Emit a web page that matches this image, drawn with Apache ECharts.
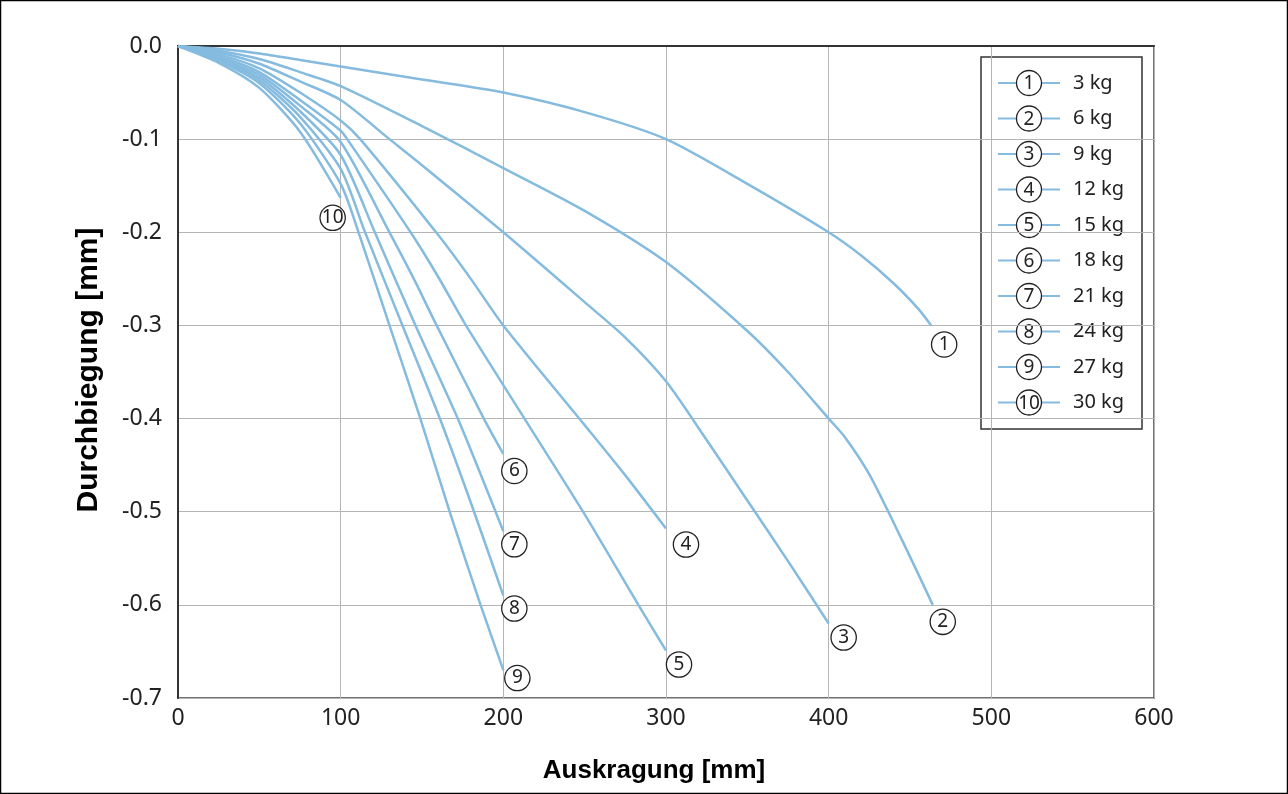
<!DOCTYPE html>
<html>
<head>
<meta charset="utf-8">
<script src="https://cdn.jsdelivr.net/npm/echarts@6/dist/echarts.min.js"></script>
<style>
html,body{margin:0;padding:0;background:#fff;}
#chart{width:1288px;height:794px;}
</style>
</head>
<body>
<div id="chart"></div>
<script>
// ---- data ----
const loadNames = ['3 kg','6 kg','9 kg','12 kg','15 kg','18 kg','21 kg','24 kg','27 kg','30 kg'];
const markerNames = ['1','2','3','4','5','6','7','8','9','10'];
const xAxisName = 'Auskragung [mm]';
const yAxisName = 'Durchbiegung [mm]';

const s3kg  = [[0,0],[25,-0.003],[50,-0.008],[75,-0.015],[100,-0.022],[150,-0.036],[200,-0.05],[250,-0.071],[300,-0.1],[350,-0.148],[400,-0.2],[420,-0.225],[440,-0.255],[455,-0.282],[463,-0.3]];
const s6kg  = [[0,0],[25,-0.005],[50,-0.014],[75,-0.028],[100,-0.043],[150,-0.086],[200,-0.131],[250,-0.177],[300,-0.232],[350,-0.306],[375,-0.35],[400,-0.4],[410,-0.42],[425,-0.46],[445,-0.53],[464,-0.6]];
const s9kg  = [[0,0],[25,-0.007],[50,-0.019],[75,-0.038],[100,-0.058],[130,-0.1],[150,-0.128],[200,-0.2],[250,-0.275],[275,-0.313],[300,-0.36],[325,-0.423],[350,-0.488],[375,-0.553],[400,-0.62]];
const s12kg = [[0,0],[25,-0.009],[50,-0.024],[75,-0.05],[100,-0.08],[112,-0.1],[160,-0.203],[180,-0.25],[200,-0.3],[250,-0.407],[275,-0.461],[300,-0.518]];
const s15kg = [[0,0],[25,-0.011],[50,-0.028],[75,-0.058],[100,-0.091],[104,-0.1],[143,-0.2],[160,-0.248],[177,-0.3],[213,-0.4],[249,-0.5],[283,-0.6],[300,-0.649]];
const s18kg = [[0,0],[25,-0.013],[50,-0.031],[75,-0.064],[100,-0.103],[130,-0.2],[145,-0.25],[159,-0.3],[188,-0.4],[200,-0.438]];
const s21kg = [[0,0],[25,-0.014],[50,-0.034],[75,-0.07],[100,-0.117],[121,-0.2],[146,-0.3],[172,-0.4],[200,-0.521]];
const s24kg = [[0,0],[25,-0.015],[50,-0.037],[75,-0.076],[100,-0.132],[115,-0.2],[138,-0.3],[161,-0.4],[182,-0.5],[200,-0.59]];
const s27kg = [[0,0],[25,-0.016],[50,-0.04],[75,-0.083],[100,-0.148],[111,-0.2],[130,-0.3],[149,-0.4],[167,-0.5],[186,-0.6],[200,-0.67]];
const s30kg = [[0,0],[25,-0.018],[50,-0.045],[75,-0.092],[100,-0.163]];
const seriesData = [s3kg,s6kg,s9kg,s12kg,s15kg,s18kg,s21kg,s24kg,s27kg,s30kg];

// ---- style / layout ----
const lineColor = '#85bbdf';
const labelOffsets = [[13,19],[10,17],[15,14],[20,16],[13,14],[11,17],[11,13],[11,13],[14,8],[-8,20]];

const chart = echarts.init(document.getElementById('chart'), null, {renderer:'canvas'});

const circleRich = {
  c: {
    width: 24, height: 24, lineHeight: 24, borderRadius: 13,
    borderColor: '#222', borderWidth: 1.3, backgroundColor: '#fff',
    align: 'center', verticalAlign: 'middle',
    fontSize: 19, color: '#222', fontFamily: 'Noto Sans'
  }
};

const series = seriesData.map((d, i) => ({
  name: loadNames[i],
  type: 'line',
  data: d,
  showSymbol: false,
  smooth: 0.25,
  lineStyle: {color: lineColor, width: 2.5},
  itemStyle: {color: lineColor},
  silent: true,
  endLabel: {
    show: true,
    distance: 0,
    align: 'center',
    verticalAlign: 'middle',
    offset: labelOffsets[i],
    formatter: () => '{c|' + markerNames[i] + '}',
    rich: circleRich
  }
}));

// legend drawn with graphic elements
const legendLeft = 981, legendTop = 57, legendW = 161, legendH = 372;
const rowStart = 83, rowStep = 35.5;
const legendChildren = [{
  type: 'rect',
  shape: {x: legendLeft, y: legendTop, width: legendW, height: legendH},
  style: {fill: '#fff', stroke: '#333', lineWidth: 1.5}
}];
loadNames.forEach((name, i) => {
  const y = rowStart + i * rowStep;
  legendChildren.push({type:'line', shape:{x1:998, y1:y, x2:1060, y2:y}, style:{stroke:lineColor, lineWidth:2}});
  legendChildren.push({type:'circle', shape:{cx:1029, cy:y, r:12.5}, style:{fill:'#fff', stroke:'#222', lineWidth:1.3}});
  legendChildren.push({type:'text', x:1029, y:y+1, style:{text:markerNames[i], fill:'#222', font:'19px "Noto Sans"', align:'center', verticalAlign:'middle'}});
  legendChildren.push({type:'text', x:1073, y:y, style:{text:name, fill:'#222', font:'20px "Noto Sans"', align:'left', verticalAlign:'middle'}});
});

const option = {
  animation: false,
  backgroundColor: '#fff',
  grid: {left: 178, right: 134, top: 46, bottom: 96, show: true, borderColor: '#444', borderWidth: 1.5, containLabel: false},
  xAxis: {
    type: 'value', min: 0, max: 600, interval: 100,
    name: xAxisName, nameLocation: 'middle', nameGap: 60,
    nameTextStyle: {fontFamily: 'Liberation Sans, Arial', fontWeight: 'bold', fontSize: 26, color: '#000', padding: [0, 24, 0, 0]},
    axisLine: {show: true, lineStyle: {color: '#333', width: 2}},
    axisTick: {show: false},
    axisLabel: {fontFamily: 'Noto Sans', fontSize: 23, color: '#222', margin: 9},
    splitLine: {show: true, lineStyle: {color: '#b5b5b5', width: 1}}
  },
  yAxis: {
    type: 'value', min: -0.7, max: 0, interval: 0.1,
    name: yAxisName, nameLocation: 'middle', nameGap: 74, nameRotate: 90,
    nameTextStyle: {fontFamily: 'Liberation Sans, Arial', fontWeight: 'bold', fontSize: 30, color: '#000', padding: [0, 0, 0, 4]},
    axisLine: {show: true, onZero: false, lineStyle: {color: '#333', width: 2}},
    axisTick: {show: false},
    axisLabel: {fontFamily: 'Noto Sans', fontSize: 23, color: '#222', margin: 16, formatter: v => v.toFixed(1)},
    splitLine: {show: true, lineStyle: {color: '#b5b5b5', width: 1}}
  },
  series: series,
  graphic: [
    {type: 'rect', shape: {x: 0.5, y: 0.5, width: 1287, height: 793}, style: {fill: 'none', stroke: '#000', lineWidth: 1.5}, silent: true, z: 100},
    {type: 'group', children: legendChildren, z: 50}
  ]
};
chart.setOption(option);
</script>
</body>
</html>
